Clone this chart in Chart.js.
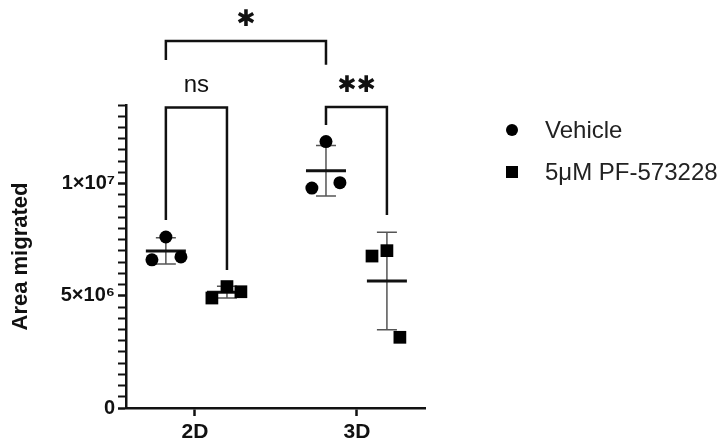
<!DOCTYPE html>
<html>
<head>
<meta charset="utf-8">
<script src="https://cdn.jsdelivr.net/npm/chart.js@4.4.0/dist/chart.umd.min.js"></script>
<style>
body { margin: 0; background: #fff; }
#wrap { width: 722px; height: 448px; }
</style>
</head>
<body>
<div id="wrap"><canvas id="chart"></canvas></div>
<script>
/* ----------- Data ----------- */
const categories = ['2D', '3D'];
const seriesNames = ['Vehicle', '5μM PF-573228'];
const yTickLabels = { 0: '0', 5000000: '5×10⁶', 10000000: '1×10⁷' };

// replicates per category: [2D], [3D]
const vehicleValues = [[7.62e6, 6.60e6, 6.73e6], [11.87e6, 9.80e6, 10.04e6]];
const vehicleX      = [[0.821, 0.735, 0.914], [1.809, 1.722, 1.895]];
const pfValues      = [[5.41e6, 4.90e6, 5.18e6], [7.01e6, 6.77e6, 3.15e6]];
const pfX           = [[1.198, 1.105, 1.284], [2.185, 2.093, 2.265]];

// mean ± SD per group
const vehicleCenter = [0.821, 1.809];
const vehicleMean   = [7.00e6, 10.57e6];
const vehicleSD     = [0.58e6, 1.13e6];
const pfCenter      = [1.198, 2.185];
const pfMean        = [5.16e6, 5.66e6];
const pfSD          = [0.26e6, 2.17e6];

// significance brackets
const bracketText  = ['ns', '✱✱', '✱'];
const bracketFrom  = [0.821, 1.809, 0.821];
const bracketTo    = [1.198, 2.185, 1.809];
const bracketTop   = [13.39e6, 13.41e6, 16.35e6];
const bracketLegL  = [8.38e6, 12.61e6, 15.5e6];
const bracketLegR  = [6.15e6, 8.60e6, 15.29e6];

const FONT = '"Liberation Sans", Arial, Helvetica, sans-serif';

/* ----------- Datasets ----------- */
function points(xs, vs){
    const out = [];
    xs.forEach((row, i) => row.forEach((x, j) => out.push({ x: x, y: vs[i][j] })));
    return out;
}

const datasets = [
    {
        type: 'scatter', label: seriesNames[0], data: points(vehicleX, vehicleValues),
        pointStyle: 'circle', pointRadius: 6.5, backgroundColor: '#000', borderColor: '#000', borderWidth: 0
    },
    {
        type: 'scatter', label: seriesNames[1], data: points(pfX, pfValues),
        pointStyle: 'rect', pointRadius: 9, backgroundColor: '#000', borderColor: '#000', borderWidth: 0
    }
];

bracketText.forEach((t, i) => {
    datasets.push({
        type: 'line', label: 'bracket' + i, showLine: true, clip: false,
        data: [
            { x: bracketFrom[i], y: bracketLegL[i] },
            { x: bracketFrom[i], y: bracketTop[i] },
            { x: bracketTo[i], y: bracketTop[i] },
            { x: bracketTo[i], y: bracketLegR[i] }
        ],
        borderColor: '#111', borderWidth: 2.5, pointRadius: 0, fill: false, tension: 0
    });
});

/* ----------- Error bars (mean ± SD) ----------- */
const errorBars = {
    id: 'errorBars',
    beforeDatasetsDraw(chart){
        const ctx = chart.ctx, xs = chart.scales.x, ys = chart.scales.y;
        const groups = [
            [vehicleCenter, vehicleMean, vehicleSD],
            [pfCenter, pfMean, pfSD]
        ];
        ctx.save();
        groups.forEach(([cx, m, sd]) => {
            cx.forEach((c, i) => {
                const x = xs.getPixelForValue(c);
                const yHi = ys.getPixelForValue(m[i] + sd[i]);
                const yLo = ys.getPixelForValue(m[i] - sd[i]);
                const yM = ys.getPixelForValue(m[i]);
                ctx.strokeStyle = '#555';
                ctx.lineWidth = 1.5;
                ctx.beginPath();
                ctx.moveTo(x, yHi); ctx.lineTo(x, yLo);
                ctx.moveTo(x - 10, yHi); ctx.lineTo(x + 10, yHi);
                ctx.moveTo(x - 10, yLo); ctx.lineTo(x + 10, yLo);
                ctx.stroke();
                ctx.strokeStyle = '#111';
                ctx.lineWidth = 3;
                ctx.beginPath();
                ctx.moveTo(x - 20, yM); ctx.lineTo(x + 20, yM);
                ctx.stroke();
            });
        });
        ctx.restore();
    }
};

/* ----------- Significance labels + legend ----------- */
const extras = {
    id: 'extras',
    afterDraw(chart){
        const ctx = chart.ctx, xs = chart.scales.x, ys = chart.scales.y;
        ctx.save();
        ctx.fillStyle = '#111';
        ctx.textAlign = 'center';
        ctx.textBaseline = 'middle';
        bracketText.forEach((t, i) => {
            const x = xs.getPixelForValue((bracketFrom[i] + bracketTo[i]) / 2);
            const y = ys.getPixelForValue(bracketTop[i]);
            if (t === 'ns') {
                ctx.font = '24px ' + FONT;
                ctx.fillText(t, x, y - 22);
            } else {
                ctx.font = '23px "DejaVu Sans"';
                ctx.fillText(t, x, y - 21);
            }
        });

        // legend
        ctx.textAlign = 'left';
        ctx.font = '24px ' + FONT;
        ctx.fillStyle = '#000';
        ctx.beginPath();
        ctx.arc(512, 130, 6, 0, Math.PI * 2);
        ctx.fill();
        ctx.fillRect(506, 166, 12, 12);
        ctx.fillStyle = '#222';
        ctx.fillText(seriesNames[0], 545, 131);
        ctx.fillText(seriesNames[1], 545, 173);
        ctx.restore();
    }
};

new Chart(document.getElementById('chart'), {
    type: 'scatter',
    data: { datasets: datasets },
    plugins: [errorBars, extras],
    options: {
        responsive: true,
        maintainAspectRatio: false,
        animation: false,
        layout: { padding: { left: 0, top: 105, right: 297, bottom: 0 } },
        plugins: { legend: { display: false }, tooltip: { enabled: false } },
        scales: {
            x: {
                type: 'linear', min: 0.575, max: 2.42,
                afterBuildTicks: s => { s.ticks = categories.map((c, i) => ({ value: i + 1 })); },
                afterFit: s => { s.height = 40; },
                grid: { drawOnChartArea: false, drawTicks: true, tickLength: 8, tickWidth: 2.5, tickColor: '#111' },
                border: { display: true, color: '#111', width: 2.5 },
                ticks: {
                    padding: 4, color: '#111',
                    font: { family: FONT, size: 21, weight: 'bold' },
                    callback: v => categories[Math.round(v) - 1]
                }
            },
            y: {
                type: 'linear', min: 0, max: 1.35e7,
                afterFit: s => { s.width = 126; },
                grid: {
                    drawOnChartArea: false, drawTicks: true, tickLength: 8, tickColor: '#111',
                    tickWidth: c => (c.tick && c.tick.value % 5e6 === 0) ? 2.5 : 2
                },
                border: { display: true, color: '#111', width: 2.5 },
                ticks: {
                    stepSize: 5e5, autoSkip: false, padding: 3, color: '#111',
                    font: { family: FONT, size: 20, weight: 'bold' },
                    callback: v => (yTickLabels[v] !== undefined ? yTickLabels[v] : '')
                },
                title: {
                    display: true, text: 'Area migrated', color: '#111',
                    font: { family: FONT, size: 22, weight: 'bold' },
                    padding: { top: 8, bottom: 0 }
                }
            }
        }
    }
});
</script>
</body>
</html>
